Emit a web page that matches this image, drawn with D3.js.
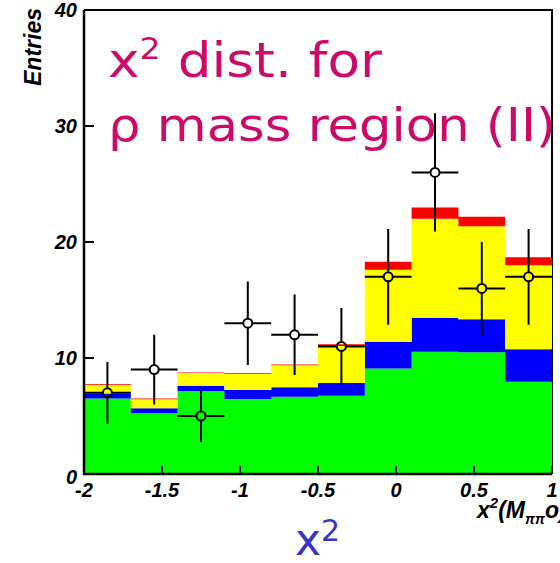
<!DOCTYPE html>
<html>
<head>
<meta charset="utf-8">
<script src="https://cdn.jsdelivr.net/npm/d3@7"></script>
<style>
  body { margin: 0; background: #fff; }
  svg { display: block; }
</style>
</head>
<body>
<script>
// bin edges on x^2 axis, 10 bins of 0.3
const binEdges = [-2, -1.7, -1.4, -1.1, -0.8, -0.5, -0.2, 0.1, 0.4, 0.7, 1.0];

// stacked MC components (per bin contribution)
const green = [6.5, 5.23, 7.16, 6.47, 6.66, 6.75, 9.1, 10.54, 10.49, 7.96];
const blue = [0.45, 0.43, 0.44, 0.77, 0.81, 1.09, 2.3, 2.93, 2.84, 2.79];
const yellow = [0.75, 0.78, 1.1, 1.41, 1.9, 3.19, 6.2, 8.53, 8.02, 7.24];
const red = [0.06, 0.06, 0.05, 0.06, 0.08, 0.15, 0.7, 0.98, 0.83, 0.69];

// data entries
const counts = [7, 9, 5, 13, 12, 11, 17, 26, 16, 17];

const xTicks = [-2, -1.5, -1, -0.5, 0, 0.5, 1];
const xTickLabels = ['-2', '-1.5', '-1', '-0.5', '0', '0.5', '1'];
const yTicks = [0, 10, 20, 30, 40];

const W = 560, H = 563;
const padL = 84, padR = 552, padT = 10, padB = 474;

const svg = d3.select('body').append('svg')
  .attr('width', W)
  .attr('height', H);

const x = d3.scaleLinear().domain([-2, 1]).range([padL, padR]);
const y = d3.scaleLinear().domain([0, 40]).range([padB, padT]);

// frame (top and right), bars drawn over it
svg.append('path')
  .attr('d', `M${padL},${padT}H${padR}V${padB}`)
  .attr('fill', 'none')
  .attr('stroke', '#000')
  .attr('stroke-width', 2);

// stacked histogram
const keys = ['green', 'blue', 'yellow', 'red'];
const colors = {green: '#00ff00', blue: '#0000ff', yellow: '#ffff00', red: '#ff0000'};
const table = green.map((g, i) => ({green: g, blue: blue[i], yellow: yellow[i], red: red[i]}));
const series = d3.stack().keys(keys)(table);

const area = d3.area()
  .curve(d3.curveStepAfter)
  .x(d => x(d.edge))
  .y0(d => y(d.y0))
  .y1(d => y(d.y1));

series.forEach(s => {
  const pts = s.map((d, i) => ({edge: binEdges[i], y0: d[0], y1: d[1]}));
  const last = s[s.length - 1];
  pts.push({edge: binEdges[binEdges.length - 1], y0: last[0], y1: last[1]});
  svg.append('path')
    .attr('d', area(pts))
    .attr('fill', colors[s.key]);
});

// data points with error bars, open circles
const r = 4.5;
const marks = svg.append('g');
counts.forEach((n, i) => {
  const cx = x((binEdges[i] + binEdges[i + 1]) / 2);
  const cy = y(n);
  const err = Math.sqrt(n);
  const x0 = x(binEdges[i]), x1 = x(binEdges[i + 1]);
  const yHi = y(n + err), yLo = y(n - err);
  marks.append('path')
    .attr('d', `M${x0},${cy}H${cx - r}M${cx + r},${cy}H${x1}M${cx},${yHi}V${cy - r}M${cx},${cy + r}V${yLo}`)
    .attr('stroke', '#000')
    .attr('stroke-width', 2)
    .attr('fill', 'none');
  marks.append('circle')
    .attr('cx', cx).attr('cy', cy).attr('r', r)
    .attr('fill', 'none')
    .attr('stroke', '#000')
    .attr('stroke-width', 2);
});

// axes
const axisFont = "'Liberation Sans', Arial, sans-serif";
svg.append('path')
  .attr('d', `M${padL},${padT}V${padB}H${padR}`)
  .attr('fill', 'none')
  .attr('stroke', '#000')
  .attr('stroke-width', 2.5);

svg.append('g').selectAll('line')
  .data(yTicks)
  .join('line')
  .attr('x1', padL).attr('x2', padL + 10)
  .attr('y1', d => y(d)).attr('y2', d => y(d))
  .attr('stroke', '#000').attr('stroke-width', 2);

svg.append('g').selectAll('line')
  .data(xTicks)
  .join('line')
  .attr('x1', d => x(d)).attr('x2', d => x(d))
  .attr('y1', padB).attr('y2', padB - 8)
  .attr('stroke', '#000').attr('stroke-width', 2);

svg.append('g').selectAll('text')
  .data(yTicks)
  .join('text')
  .attr('x', padL - 7)
  .attr('y', d => y(d) + 7 + (d === 0 ? 3 : 0))
  .attr('text-anchor', 'end')
  .attr('font-family', axisFont)
  .attr('font-weight', 'bold')
  .attr('font-style', 'italic')
  .attr('font-size', 20)
  .text(d => d);

svg.append('g').selectAll('text')
  .data(xTicks)
  .join('text')
  .attr('x', d => x(d))
  .attr('y', 497)
  .attr('text-anchor', 'middle')
  .attr('font-family', axisFont)
  .attr('font-weight', 'bold')
  .attr('font-style', 'italic')
  .attr('font-size', 20)
  .text((d, i) => xTickLabels[i]);

svg.append('text')
  .attr('transform', 'translate(41,8) rotate(-90)')
  .attr('text-anchor', 'end')
  .attr('font-family', axisFont)
  .attr('font-weight', 'bold')
  .attr('font-style', 'italic')
  .attr('font-size', 23)
  .text('Entries');

// x axis title x^2(M_pipi0)
const xt = svg.append('text')
  .attr('x', 477).attr('y', 518)
  .attr('font-family', axisFont)
  .attr('font-weight', 'bold')
  .attr('font-style', 'italic')
  .attr('font-size', 23);
xt.append('tspan').text('x');
xt.append('tspan').attr('font-size', 15).attr('dy', -10).text('2');
xt.append('tspan').attr('dy', 10).text('(M');
xt.append('tspan').attr('font-size', 14).attr('dy', 6).text('ππ');
xt.append('tspan').attr('dy', -6).text('o)');

// annotation in magenta
const pink = '#cc0a68';
const handFont = "'DejaVu Sans', sans-serif";
const t1 = svg.append('text')
  .attr('x', 108).attr('y', 77)
  .attr('fill', pink)
  .attr('font-family', handFont)
  .attr('font-size', 48)
  .attr('textLength', 274)
  .attr('lengthAdjust', 'spacingAndGlyphs');
t1.append('tspan').text('x');
t1.append('tspan').attr('font-size', 30).attr('dy', -18).text('2');
t1.append('tspan').attr('dy', 18).text(' dist. for');

svg.append('text')
  .attr('x', 108).attr('y', 141)
  .attr('fill', pink)
  .attr('font-family', handFont)
  .attr('font-size', 46)
  .attr('textLength', 448)
  .attr('lengthAdjust', 'spacingAndGlyphs')
  .text('ρ mass region (II)');

// blue x^2 at bottom
const t3 = svg.append('text')
  .attr('x', 295).attr('y', 555)
  .attr('fill', '#3434c8')
  .attr('font-family', handFont)
  .attr('font-size', 44);
t3.append('tspan').text('x');
t3.append('tspan').attr('font-size', 30).attr('dy', -14).text('2');
</script>
</body>
</html>
